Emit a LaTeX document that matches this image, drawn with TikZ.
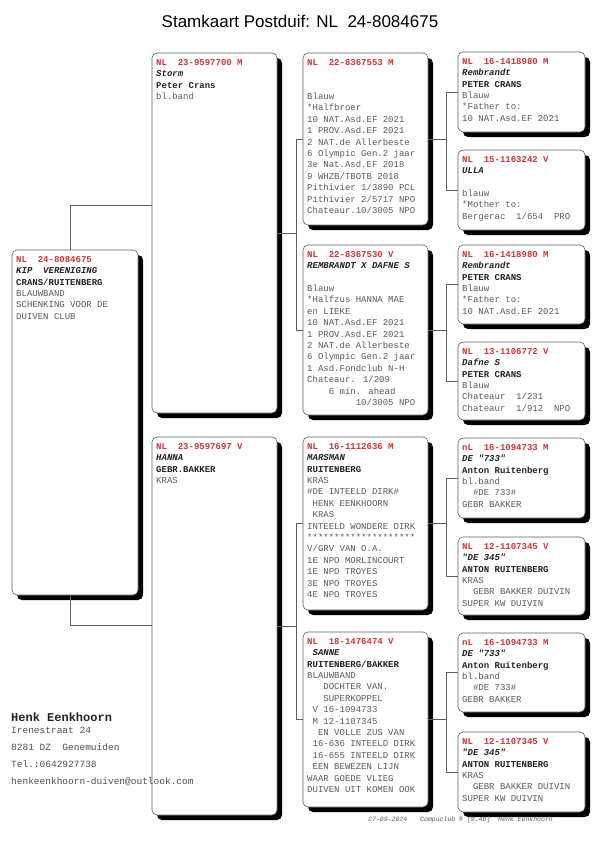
\documentclass[tikz,border=0pt]{standalone}
\usepackage{fontspec}
\setmainfont{Liberation Sans}
\newfontfamily\mono{Liberation Mono}
\usetikzlibrary{shadows}
\definecolor{hdr}{RGB}{205,55,55}
\definecolor{txt}{RGB}{90,90,90}
\definecolor{nam}{RGB}{35,35,35}
\definecolor{ln}{RGB}{95,95,95}
\newcommand{\hd}[1]{\textcolor{hdr}{\bfseries #1}}
\newcommand{\nm}[1]{\textcolor{nam}{\bfseries\itshape #1}}
\newcommand{\ow}[1]{\textcolor{nam}{\bfseries #1}}
\tikzset{
  pbox/.style={draw=ln, line width=0.6pt, fill=white, rounded corners=5pt, inner sep=0pt, outer sep=0pt, anchor=north west,
    drop shadow={shadow xshift=5pt, shadow yshift=-5pt, fill=black, opacity=1}},
  ptext/.style={anchor=north west, inner sep=0pt, align=left, text=txt, font=\mono\fontsize{9}{11.4}\selectfont},
  conn/.style={draw=ln, line width=0.6pt},
  foot/.style={anchor=base west, inner sep=0pt, text=txt, font=\mono\itshape\fontsize{6.5}{8}\selectfont}
}
\newcommand{\card}[6]{%
  \node[pbox, minimum width={#4-#2}, minimum height={#5-#3}] (#1) at (#2,#3) {};
  \node[ptext] (#1t) at ([xshift=4pt,yshift=-6pt]#1.north west) {#6};
}
\begin{document}
\begin{tikzpicture}[x=1pt,y=-1pt]
\fill[white] (0,0) rectangle (600,849);
\useasboundingbox (0,0) rectangle (600,849);

\node[font=\fontsize{17}{20}\selectfont, anchor=base, inner sep=0pt] (title) at (300,27) {Stamkaart Postduif: NL~~24-8084675};

% subject
\card{s}{12}{250}{138}{595}{\hd{NL~~24-8084675}\\ \nm{KIP~~VERENIGING}\\ \ow{CRANS/RUITENBERG}\\ BLAUWBAND\\ SCHENKING VOOR DE\\ DUIVEN CLUB}

% parents
\card{f}{152}{53}{277}{413}{\hd{NL~~23-9597700 M}\\ \nm{Storm}\\ \ow{Peter Crans}\\ bl.band}
\card{m}{152}{437}{277}{815}{\hd{NL~~23-9597697 V}\\ \nm{HANNA}\\ \ow{GEBR.BAKKER}\\ KRAS}

% grandparents
\card{gp1}{303}{53}{428}{225}{\hd{NL~~22-8367553 M}\\ \mbox{}\\ \mbox{}\\ Blauw\\ *Halfbroer\\ 10 NAT.Asd.EF 2021\\ 1 PROV.Asd.EF 2021\\ 2 NAT.de Allerbeste\\ 6 Olympic Gen.2 jaar\\ 3e Nat.Asd.EF 2018\\ 9 WHZB/TBOTB 2018\\ Pithivier 1/3890 PCL\\ Pithivier 2/5717 NPO\\ Chateaur.10/3005 NPO}
\card{gp2}{303}{245}{428}{415}{\hd{NL~~22-8367530 V}\\ \nm{REMBRANDT X DAFNE S}\\ \mbox{}\\ Blauw\\ *Halfzus HANNA MAE\\ en LIEKE\\ 10 NAT.Asd.EF 2021\\ 1 PROV.Asd.EF 2021\\ 2 NAT.de Allerbeste\\ 6 Olympic Gen.2 jaar\\ 1 Asd.Fondclub N-H\\ Chateaur. 1/209\\ ~~~~6 min. ahead\\ ~~~~~~~~~10/3005 NPO}
\card{gp3}{303}{437}{428}{610}{\hd{NL~~16-1112636 M}\\ \nm{MARSMAN}\\ \ow{RUITENBERG}\\ KRAS\\ \#DE INTEELD DIRK\#\\ ~HENK EENKHOORN\\ ~KRAS\\ INTEELD WONDERE DIRK\\ ********************\\ V/GRV VAN O.A.\\ 1E NPO MORLINCOURT\\ 1E NPO TROYES\\ 3E NPO TROYES\\ 4E NPO TROYES}
\card{gp4}{303}{632}{428}{807}{\hd{NL~~18-1476474 V}\\ \nm{~SANNE}\\ \ow{RUITENBERG/BAKKER}\\ BLAUWBAND\\ ~~~DOCHTER VAN.\\ ~~~SUPERKOPPEL\\ ~V 16-1094733\\ ~M 12-1107345\\ ~~EN VOLLE ZUS VAN\\ ~16-636 INTEELD DIRK\\ ~16-655 INTEELD DIRK\\ ~EEN BEWEZEN LIJN\\ WAAR GOEDE VLIEG\\ DUIVEN UIT KOMEN OOK}

% great-grandparents
\card{g1}{458}{52}{585}{132}{\hd{NL~~16-1418980 M}\\ \nm{Rembrandt}\\ \ow{PETER CRANS}\\ Blauw\\ *Father to:\\ 10 NAT.Asd.EF 2021}
\card{g2}{458}{150}{585}{230}{\hd{NL~~15-1163242 V}\\ \nm{ULLA}\\ \mbox{}\\ blauw\\ *Mother to:\\ Bergerac~~1/654~~PRO}
\card{g3}{458}{245}{585}{324}{\hd{NL~~16-1418980 M}\\ \nm{Rembrandt}\\ \ow{PETER CRANS}\\ Blauw\\ *Father to:\\ 10 NAT.Asd.EF 2021}
\card{g4}{458}{342}{585}{420}{\hd{NL~~13-1106772 V}\\ \nm{Dafne S}\\ \ow{PETER CRANS}\\ Blauw\\ Chateaur~~1/231\\ Chateaur~~1/912~~NPO}
\card{g5}{458}{438}{585}{518}{\hd{nL~~16-1094733 M}\\ \nm{DE "733"}\\ \ow{Anton Ruitenberg}\\ bl.band\\ ~~\#DE 733\#\\ GEBR BAKKER}
\card{g6}{458}{537}{585}{615}{\hd{NL~~12-1107345 V}\\ \nm{"DE 345"}\\ \ow{ANTON RUITENBERG}\\ KRAS\\ ~~GEBR BAKKER DUIVIN\\ SUPER KW DUIVIN}
\card{g7}{458}{633}{585}{712}{\hd{nL~~16-1094733 M}\\ \nm{DE "733"}\\ \ow{Anton Ruitenberg}\\ bl.band\\ ~~\#DE 733\#\\ GEBR BAKKER}
\card{g8}{458}{732}{585}{812}{\hd{NL~~12-1107345 V}\\ \nm{"DE 345"}\\ \ow{ANTON RUITENBERG}\\ KRAS\\ ~~GEBR BAKKER DUIVIN\\ SUPER KW DUIVIN}

% connectors
\coordinate (sx) at (70,0);
\coordinate (fj) at (0,205);
\coordinate (mj) at (0,625);
\coordinate (b1) at (296,0);
\coordinate (b2) at (446,0);
\draw[conn] (sx |- s.north) |- (f.west |- fj);
\draw[conn] (sx |- s.south) |- (m.west |- mj);
\draw[conn] (f.east) -- (b1 |- f.east);
\draw[conn] (gp1.west) -- (b1 |- gp1.west) -- (b1 |- gp2.west) -- (gp2.west);
\draw[conn] (m.east) -- (b1 |- m.east);
\draw[conn] (gp3.west) -- (b1 |- gp3.west) -- (b1 |- gp4.west) -- (gp4.west);
\draw[conn] (gp1.east) -- (b2 |- gp1.east);
\draw[conn] (g1.west) -- (b2 |- g1.west) -- (b2 |- g2.west) -- (g2.west);
\draw[conn] (gp2.east) -- (b2 |- gp2.east);
\draw[conn] (g3.west) -- (b2 |- g3.west) -- (b2 |- g4.west) -- (g4.west);
\draw[conn] (gp3.east) -- (b2 |- gp3.east);
\draw[conn] (g5.west) -- (b2 |- g5.west) -- (b2 |- g6.west) -- (g6.west);
\draw[conn] (gp4.east) -- (b2 |- gp4.east);
\draw[conn] (g7.west) -- (b2 |- g7.west) -- (b2 |- g8.west) -- (g8.west);

% owner
\node[anchor=base west, inner sep=0pt, text=nam, font=\mono\bfseries\fontsize{12}{14}\selectfont] (owner) at (11,721) {Henk Eenkhoorn};
\node[anchor=north west, inner sep=0pt, align=left, text=nam!80, font=\mono\fontsize{9.5}{17}\selectfont] (addr) at (11,727) {Irenestraat 24\\8281 DZ~~Genemuiden\\Tel.:0642927738\\henkeenkhoorn-duiven@outlook.com};

% footer
\node[foot] (date) at (368,821) {27-09-2024};
\node[foot] (cc) at (420,821) {Compuclub ® [9.46]~~Henk Eenkhoorn};
\end{tikzpicture}
\end{document}
